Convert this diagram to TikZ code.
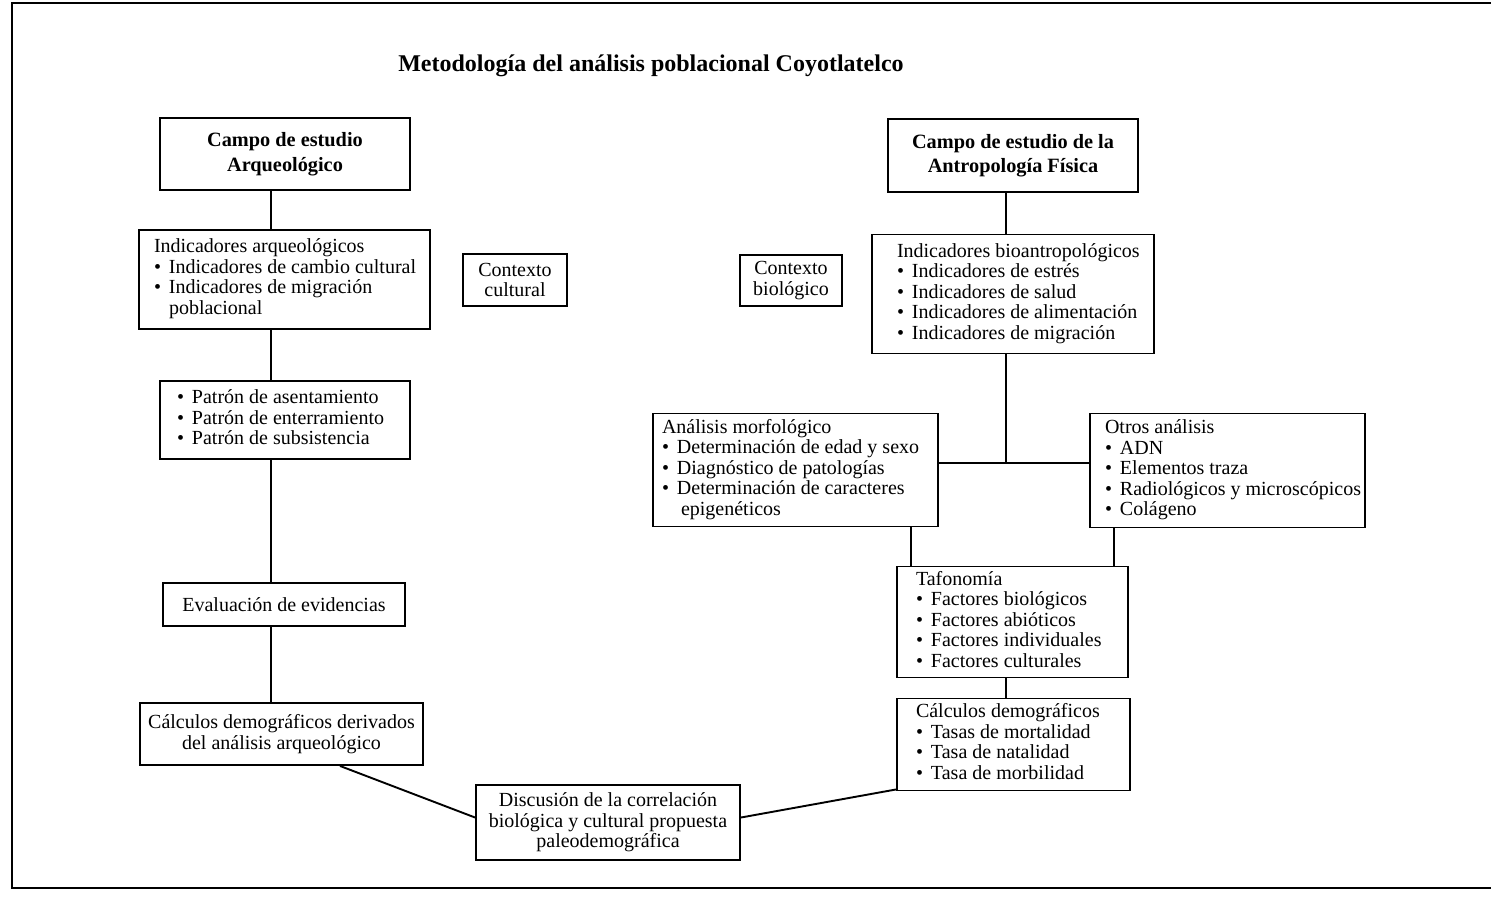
\documentclass[tikz,border=0pt]{standalone}
\usepackage{fontspec}
\setmainfont{Liberation Serif}
\usetikzlibrary{calc}

% left-aligned block of lines inside a box of fixed inner width (in pt)
\newcommand{\itemlines}[2]{\makebox[#1pt][l]{\begin{tabular}{@{}l@{}}#2\end{tabular}}}
\newcommand{\bitem}{\makebox[0.75em][l]{•}}
\newcommand{\cont}{\hspace*{0.75em}}

\begin{document}
\begin{tikzpicture}[
  x=1pt, y=-1pt,
  every node/.style={font=\fontsize{20}{20.5}\selectfont},
  box/.style={draw, line width=1.9pt, inner sep=0pt, align=center},
  headbox/.style={box, font=\fontsize{20.3}{24.5}\selectfont\bfseries},
  link/.style={line width=1.9pt},
]
\useasboundingbox (0,0) rectangle (1491,898);

% outer frame
\draw[line width=1.7pt] (1491,3) -- (12,3) -- (12,888) -- (1491,888);

\node[font=\fontsize{24}{28}\selectfont\bfseries] (title) at (651,66)
  {Metodología del análisis poblacional Coyotlatelco};

% archaeological branch
\node[headbox, minimum width=250, minimum height=72]
  (A1) at (285,154) {Campo de estudio\\Arqueológico};
\node[box, minimum width=291, minimum height=99, inner xsep=15]
  (A2) at (284.5,279.5) {\itemlines{261}{Indicadores arqueológicos\\
    \bitem Indicadores de cambio cultural\\
    \bitem Indicadores de migración\\
    \cont poblacional}};
\node[box, minimum width=250, minimum height=78, inner xsep=17]
  (A3) at (285,420) {\itemlines{216}{\bitem Patrón de asentamiento\\
    \bitem Patrón de enterramiento\\
    \bitem Patrón de subsistencia}};
\node[box, minimum width=242, minimum height=43]
  (A4) at (284,604.5) {Evaluación de evidencias};
\node[box, minimum width=283, minimum height=62]
  (A5) at (281.5,734) {Cálculos demográficos derivados\\del análisis arqueológico};

% shared result
\node[box, minimum width=264, minimum height=75]
  (D) at (608,822.5) {Discusión de la correlación\\biológica y cultural propuesta\\paleodemográfica};

% context labels
\node[box, minimum width=104, minimum height=52] (CC) at (515,280) {Contexto\\cultural};
\node[box, minimum width=102, minimum height=51] (CB) at (791,280.5) {Contexto\\biológico};

% physical anthropology branch
\node[headbox, minimum width=250, minimum height=73]
  (B1) at (1013,155.5) {Campo de estudio de la\\Antropología Física};
\node[box, minimum width=282, minimum height=119, inner xsep=25]
  (B2) at (1013,294) {\itemlines{232}{Indicadores bioantropológicos\\
    \bitem Indicadores de estrés\\
    \bitem Indicadores de salud\\
    \bitem Indicadores de alimentación\\
    \bitem Indicadores de migración}};
\node[box, minimum width=285, minimum height=113, inner xsep=9]
  (B3) at (795.5,470) {\itemlines{267}{Análisis morfológico\\
    \bitem Determinación de edad y sexo\\
    \bitem Diagnóstico de patologías\\
    \bitem Determinación de caracteres\\
    \cont\hspace*{0.2em}epigenéticos}};
\node[box, minimum width=275, minimum height=114, inner xsep=15]
  (B4) at (1227.5,470.5) {\itemlines{245}{Otros análisis\\
    \bitem ADN\\
    \bitem Elementos traza\\
    \bitem Radiológicos y microscópicos\\
    \bitem Colágeno}};
\node[box, minimum width=231, minimum height=111, inner xsep=19]
  (B5) at (1012.5,622) {\itemlines{193}{Tafonomía\\
    \bitem Factores biológicos\\
    \bitem Factores abióticos\\
    \bitem Factores individuales\\
    \bitem Factores culturales}};
\node[box, minimum width=233, minimum height=92, inner xsep=19]
  (B6) at (1013.5,744.5) {\itemlines{195}{Cálculos demográficos\\
    \bitem Tasas de mortalidad\\
    \bitem Tasa de natalidad\\
    \bitem Tasa de morbilidad}};

% connector guide positions
\coordinate (lx) at (271,0);
\coordinate (ax) at (340,0);
\coordinate (rx) at (1006,0);
\coordinate (mx) at (911,0);
\coordinate (ox) at (1114,0);
\coordinate (J) at (1006,463);

% archaeological chain
\draw[link] (A1.south -| lx) -- (A2.north -| lx);
\draw[link] (A2.south -| lx) -- (A3.north -| lx);
\draw[link] (A3.south -| lx) -- (A4.north -| lx);
\draw[link] (A4.south -| lx) -- (A5.north -| lx);
\draw[link] (A5.south -| ax) -- ($(D.west)+(0,-5)$);

% physical anthropology chain
\draw[link] (B1.south -| rx) -- (B2.north -| rx);
\draw[link] (B2.south -| rx) -- (J);
\draw[link] (B3.east |- J) -- (B4.west |- J);
\draw[link] (B3.south -| mx) -- (B5.north -| mx);
\draw[link] (B4.south -| ox) -- (B5.north -| ox);
\draw[link] (B5.south -| rx) -- (B6.north -| rx);
\draw[link] ($(D.east)+(0,-5)$) -- ($(B6.south west)+(0,-2)$);
\end{tikzpicture}
\end{document}
